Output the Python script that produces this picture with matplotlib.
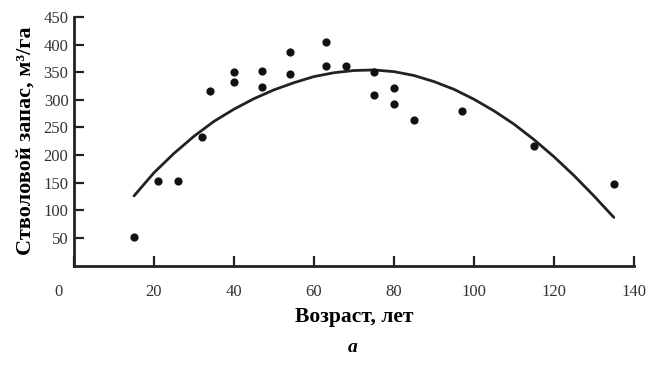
import numpy as np
import matplotlib.pyplot as plt
import matplotlib.transforms as mtransforms

# Observed stand volume vs age
age = [15, 21, 26, 32, 34, 40, 40, 47, 47, 54, 54, 63, 63, 68,
       75, 75, 80, 80, 85, 97, 115, 135]
volume = [52, 153, 153, 232, 316, 351, 332, 352, 324, 387, 347, 405, 361, 361,
          350, 308, 322, 292, 264, 280, 217, 148]

# Trend line
trend_age = [15, 20, 25, 30, 35, 40, 45, 50, 55, 60, 65, 70, 75,
             80, 85, 90, 95, 100, 105, 110, 115, 120, 125, 130, 135]
trend_vol = [126, 168, 203, 234, 261, 283, 302, 318, 331, 342, 349, 353, 354,
             351, 344, 333, 319, 301, 280, 256, 228, 197, 163, 126, 87]

xticks = [0, 20, 40, 60, 80, 100, 120, 140]
yticks = [50, 100, 150, 200, 250, 300, 350, 400, 450]

plt.rcParams['font.family'] = ['Liberation Serif', 'DejaVu Serif']

fig = plt.figure(figsize=(6.51, 3.65), dpi=100)
ax = fig.add_axes([0.1137, 0.2726, 0.860, 0.681])

ax.plot(trend_age, trend_vol, color='#222222', linewidth=2.0,
        solid_joinstyle='round', solid_capstyle='round')
ax.scatter(age, volume, s=24, color='#111111', zorder=3)

ax.set_xlim(0, 140)
ax.set_ylim(0, 450)
ax.set_xticks(xticks)
ax.set_yticks(yticks)

for side in ['top', 'right']:
    ax.spines[side].set_visible(False)
for side in ['left', 'bottom']:
    ax.spines[side].set_linewidth(2.0)
    ax.spines[side].set_color('#222222')

ax.tick_params(axis='both', direction='in', length=7, width=1.6,
               color='#222222', labelsize=12, labelcolor='#333333')
ax.tick_params(axis='x', pad=13)
ax.tick_params(axis='y', pad=4)

# the "0" label sits a bit left of the axis in the original
offset = mtransforms.ScaledTranslation(-0.16, 0, fig.dpi_scale_trans)
first = ax.get_xticklabels()[0]
first.set_transform(first.get_transform() + offset)

ax.set_xlabel('Возраст, лет', fontsize=15.5, fontweight='bold', labelpad=5)
ax.set_ylabel('Стволовой запас, м³/га', fontsize=16, fontweight='bold', labelpad=6)

fig.text(0.541, 0.025, 'а', fontsize=14, fontstyle='italic', fontweight='bold',
         ha='center', va='bottom')

plt.savefig('out.png', dpi=100)
